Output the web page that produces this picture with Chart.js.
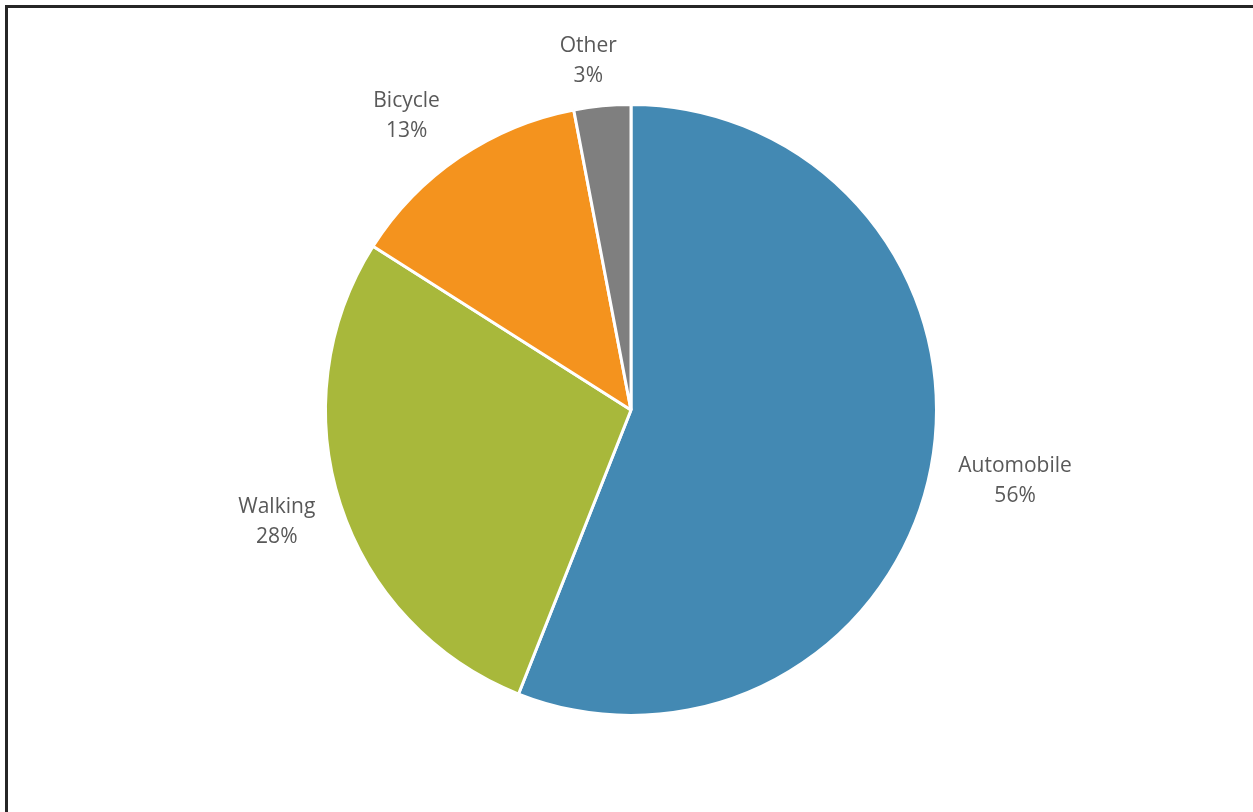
<!DOCTYPE html>
<html>
<head>
<meta charset="utf-8">
<script src="https://cdn.jsdelivr.net/npm/chart.js@4"></script>
<style>
  html, body { margin: 0; padding: 0; background: #fff; }
  #wrap { width: 1253px; height: 812px; position: relative; }
</style>
</head>
<body>
<div id="wrap"><canvas id="c" width="1253" height="812"></canvas></div>
<script>
const categories = ['Automobile', 'Walking', 'Bicycle', 'Other'];
const shares = [56, 28, 13, 3];

const frame = {
  id: 'frame',
  beforeDraw(chart) {
    const ctx = chart.ctx;
    ctx.save();
    ctx.fillStyle = '#ffffff';
    ctx.fillRect(0, 0, chart.width, chart.height);
    ctx.strokeStyle = '#262626';
    ctx.lineWidth = 3;
    ctx.beginPath();
    ctx.moveTo(6.5, chart.height + 10);
    ctx.lineTo(6.5, 6.5);
    ctx.lineTo(chart.width + 10, 6.5);
    ctx.stroke();
    ctx.restore();
  }
};

const outsideLabels = {
  id: 'outsideLabels',
  afterDatasetsDraw(chart, args, opts) {
    const ctx = chart.ctx;
    const meta = chart.getDatasetMeta(0);
    const data = chart.data.datasets[0].data;
    const total = data.reduce((a, b) => a + b, 0);
    const fontSize = 21, lineH = 30, gap = 20;
    const nudge = opts.nudge || [];
    ctx.save();
    ctx.font = fontSize + 'px "Open Sans", sans-serif';
    ctx.fillStyle = '#595959';
    ctx.textAlign = 'center';
    ctx.textBaseline = 'middle';
    meta.data.forEach((arc, i) => {
      const p = arc.getProps(['x', 'y', 'startAngle', 'endAngle', 'outerRadius'], true);
      const mid = (p.startAngle + p.endAngle) / 2;
      const lines = [chart.data.labels[i], Math.round(data[i] / total * 100) + '%'];
      const w = Math.max(...lines.map(t => ctx.measureText(t).width)) / 2;
      const h = lines.length * lineH / 2;
      const c = Math.cos(mid), s = Math.sin(mid);
      const d = p.outerRadius + gap + Math.abs(c) * w + Math.abs(s) * h;
      const n = nudge[i] || [0, 0];
      const cx = p.x + c * d + n[0], cy = p.y + s * d + n[1];
      lines.forEach((t, k) => {
        ctx.fillText(t, cx, cy - h + lineH * (k + 0.5));
      });
    });
    ctx.restore();
  }
};

new Chart(document.getElementById('c'), {
  type: 'pie',
  data: {
    labels: categories,
    datasets: [{
      data: shares,
      backgroundColor: ['#4389B3', '#A8B83B', '#F4931E', '#7F7F7F'],
      borderColor: '#ffffff',
      borderWidth: 3
    }]
  },
  options: {
    responsive: false,
    animation: false,
    events: [],
    rotation: 0,
    layout: { padding: { top: 103, bottom: 95, left: 9, right: 0 } },
    plugins: {
      legend: { display: false },
      tooltip: { enabled: false },
      title: { display: false },
      outsideLabels: { nudge: [[4, -1], [-1, -3], [-17, 11], [-9, 7]] }
    }
  },
  plugins: [frame, outsideLabels]
});
</script>
</body>
</html>
